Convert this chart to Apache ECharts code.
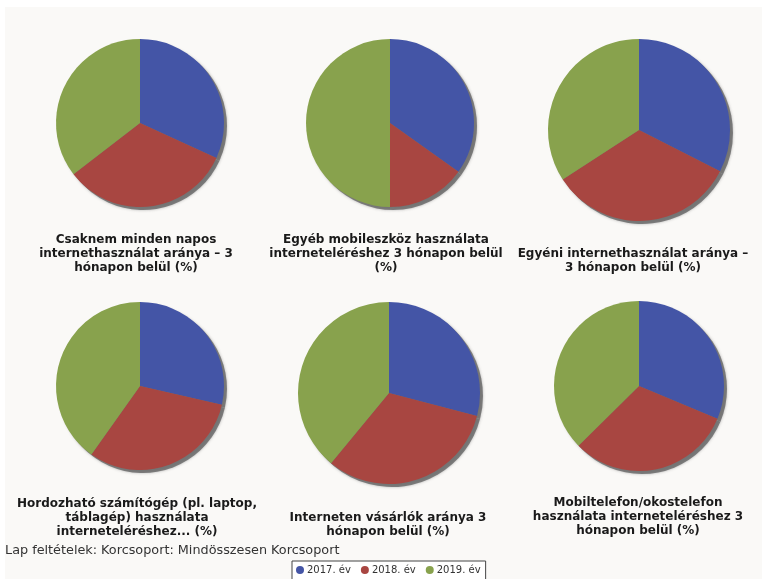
<!DOCTYPE html>
<html>
<head>
<meta charset="utf-8">
<script src="https://cdn.jsdelivr.net/npm/echarts@6/dist/echarts.min.js"></script>
<style>
  html, body { margin: 0; padding: 0; background: #ffffff; width: 762px; height: 579px; overflow: hidden; }
  #chart { position: absolute; left: 5px; top: 7px; width: 757px; height: 572px; }
</style>
</head>
<body>
<div id="chart"></div>
<script>
// Years shown in every pie
const years = ['2017. év', '2018. év', '2019. év'];
const colors = ['#4455a6', '#a84641', '#88a24d'];

// Indicator titles (line breaks as displayed)
const titles = [
  'Csaknem minden napos\ninternethasználat aránya – 3\nhónapon belül (%)',
  'Egyéb mobileszköz használata\ninterneteléréshez 3 hónapon belül\n(%)',
  'Egyéni internethasználat aránya –\n3 hónapon belül (%)',
  'Hordozható számítógép (pl. laptop,\ntáblagép) használata\ninterneteléréshez... (%)',
  'Interneten vásárlók aránya 3\nhónapon belül (%)',
  'Mobiltelefon/okostelefon\nhasználata interneteléréshez 3\nhónapon belül (%)'
];

// Values per indicator, by year (2017, 2018, 2019)
const dailyUse = [70, 72, 78];
const otherMobile = [23, 10, 33];
const individualUse = [78, 80, 82];
const portableDevice = [32, 35, 45];
const onlineShoppers = [41, 45, 55];
const mobilePhone = [72, 72, 86];
const seriesValues = [dailyUse, otherMobile, individualUse, portableDevice, onlineShoppers, mobilePhone];

// Layout of each pie cell: centre, radius, title anchor
const layout = [
  { c: [135, 116], r: 84, tx: 131, ty: 226 },
  { c: [385, 116], r: 84, tx: 381, ty: 226 },
  { c: [634, 123], r: 91, tx: 628, ty: 240 },
  { c: [135, 379], r: 84, tx: 132, ty: 490 },
  { c: [384, 386], r: 91, tx: 383, ty: 504 },
  { c: [634, 379], r: 85, tx: 633, ty: 489 }
];

const series = [];
const titleList = [];
seriesValues.forEach((vals, i) => {
  const L = layout[i];
  // soft drop shadow under the pie
  series.push({
    type: 'pie',
    silent: true,
    z: 1,
    center: [L.c[0] + 3, L.c[1] + 3],
    radius: L.r,
    label: { show: false },
    labelLine: { show: false },
    itemStyle: { color: 'rgba(95,95,95,0.75)', shadowBlur: 3, shadowColor: 'rgba(95,95,95,0.6)' },
    data: vals.map((v, k) => ({ value: v, name: years[k] + '_s' }))
  });
  series.push({
    type: 'pie',
    z: 2,
    center: L.c,
    radius: L.r,
    startAngle: 90,
    clockwise: true,
    label: { show: false },
    labelLine: { show: false },
    emphasis: { scale: false },
    itemStyle: { borderWidth: 0 },
    data: vals.map((v, k) => ({ value: v, name: years[k], itemStyle: { color: colors[k] } }))
  });
  titleList.push({
    text: titles[i],
    left: L.tx,
    top: L.ty,
    textAlign: 'center',
    padding: 0,
    textStyle: {
      fontFamily: 'DejaVu Sans',
      fontWeight: 'bold',
      fontSize: 12,
      lineHeight: 14,
      color: '#1a1a1a'
    }
  });
});

titleList.push({
  text: 'Lap feltételek: Korcsoport: Mindösszesen Korcsoport',
  left: 0,
  top: 537,
  padding: 0,
  textStyle: { fontFamily: 'DejaVu Sans', fontWeight: 'normal', fontSize: 12.8, color: '#333333' }
});

const chart = echarts.init(document.getElementById('chart'), null, { renderer: 'canvas' });
chart.setOption({
  backgroundColor: '#faf9f7',
  animation: false,
  title: titleList,
  legend: {
    data: years,
    left: 287,
    top: 554,
    orient: 'horizontal',
    icon: 'circle',
    itemWidth: 8,
    itemHeight: 8,
    itemGap: 10,
    padding: [4, 5, 6, 4],
    borderColor: '#444444',
    borderWidth: 1,
    backgroundColor: '#ffffff',
    textStyle: { fontFamily: 'DejaVu Sans', fontSize: 10, color: '#333333', padding: [0, 0, 0, -2] }
  },
  color: colors,
  series: series
});
</script>
</body>
</html>
